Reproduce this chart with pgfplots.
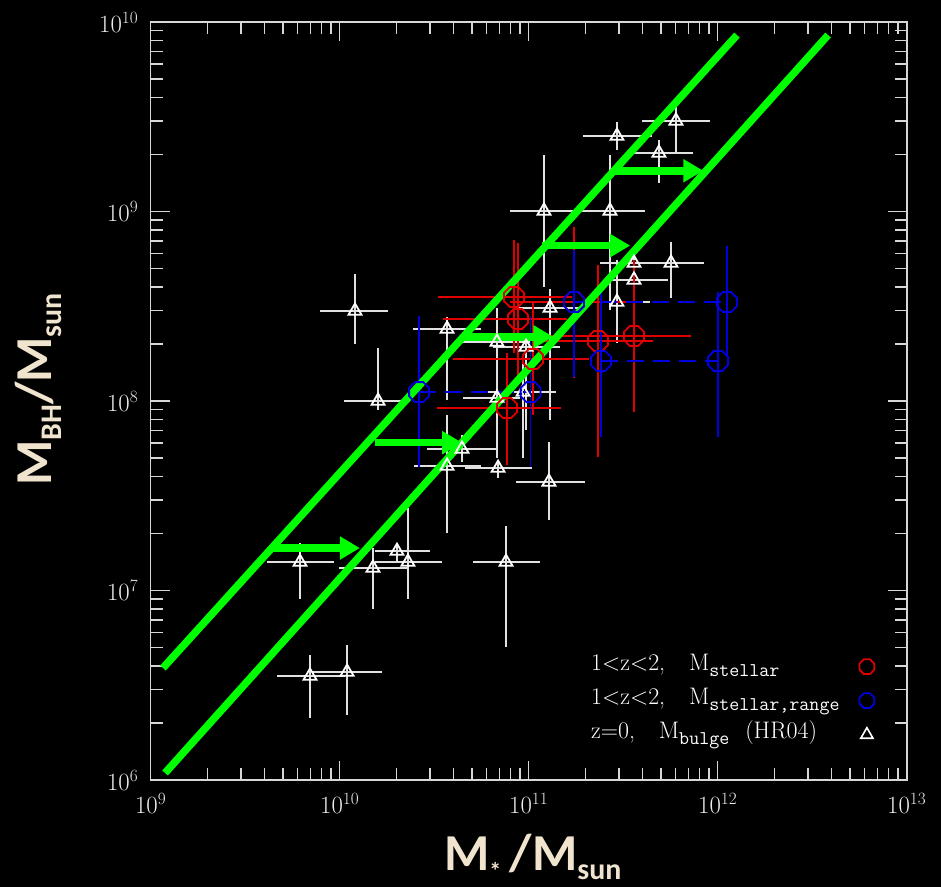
\documentclass[border=0pt]{standalone}
\usepackage{fontspec}
\usepackage{pgfplots}
\usepackage{pgfplotstable}
\pgfplotsset{compat=1.18}
\usetikzlibrary{arrows.meta}
\newfontfamily\carlito{Carlito}
\definecolor{lab}{RGB}{240,228,206}
\definecolor{gr}{RGB}{0,255,0}
\definecolor{wbar}{RGB}{225,225,225}
\definecolor{rd}{RGB}{225,0,0}
\definecolor{bl}{RGB}{0,0,225}
\definecolor{frm}{RGB}{215,215,215}
\newcommand\sub[1]{\raisebox{-6bp}{\fontsize{19.5}{19.5}\selectfont\ttfamily #1}}
\pgfdeclareplotmark{octagon}{%
  \pgfpathmoveto{\pgfqpointpolar{22.5}{\pgfplotmarksize}}%
  \pgfpathlineto{\pgfqpointpolar{67.5}{\pgfplotmarksize}}%
  \pgfpathlineto{\pgfqpointpolar{112.5}{\pgfplotmarksize}}%
  \pgfpathlineto{\pgfqpointpolar{157.5}{\pgfplotmarksize}}%
  \pgfpathlineto{\pgfqpointpolar{202.5}{\pgfplotmarksize}}%
  \pgfpathlineto{\pgfqpointpolar{247.5}{\pgfplotmarksize}}%
  \pgfpathlineto{\pgfqpointpolar{292.5}{\pgfplotmarksize}}%
  \pgfpathlineto{\pgfqpointpolar{337.5}{\pgfplotmarksize}}%
  \pgfpathclose\pgfusepathqstroke}

% log10 values
\pgfplotstableread{
x y xlo xhi ylo yhi
10.081 8.475 9.896 10.256 8.301 8.670
10.203 8.000 10.023 10.372 7.953 8.280
10.568 8.380 10.388 10.748 8.005 8.443
10.568 7.657 10.393 10.748 7.303 7.926
10.647 7.747 10.462 10.827 7.678 7.821
10.838 7.646 10.663 11.017 7.594 7.678
10.832 8.311 10.652 11.007 7.699 8.491
10.986 8.285 10.811 11.166 7.847 8.359
10.970 8.047 10.785 11.144 7.699 8.201
11.113 8.491 10.938 11.293 7.900 8.591
11.081 9.003 10.901 11.256 8.602 9.298
11.430 9.003 11.256 11.615 8.480 9.298
11.467 9.398 11.287 11.652 9.325 9.472
11.779 9.478 11.599 11.959 9.309 9.551
11.689 9.309 11.536 11.869 9.150 9.377
11.753 8.728 11.573 11.928 8.544 8.839
11.557 8.728 11.377 11.737 8.586 8.760
11.557 8.639 11.430 11.737 8.359 8.718
11.467 8.522 11.324 11.642 8.306 8.744
9.790 7.150 9.615 9.970 6.955 7.251
10.176 7.119 9.996 10.356 6.902 7.224
10.303 7.208 10.187 10.478 7.150 7.235
10.361 7.150 10.187 10.541 6.955 7.435
10.880 7.150 10.705 11.060 6.702 7.340
9.843 6.549 9.668 10.028 6.327 6.660
10.039 6.570 9.853 10.224 6.343 6.712
11.107 7.573 10.933 11.298 7.372 7.784
10.832 8.016 10.652 10.954 7.699 8.058
}\tri

\pgfplotstableread{
x y xlo xhi ylo yhi
10.922 8.549 10.520 11.229 8.253 8.850
10.943 8.433 10.547 11.203 8.111 8.834
11.023 8.222 10.599 11.319 7.926 8.517
10.885 7.963 10.515 11.171 7.662 8.253
11.240 8.522 10.901 11.552 8.121 8.920
11.367 8.317 11.076 11.658 7.704 8.718
11.557 8.343 11.113 11.859 7.942 8.744
}\red

\pgfplotstableread{
x y ylo yhi
10.420 8.047 7.652 8.449
11.010 8.047 7.652 8.449
11.240 8.522 8.126 8.797
12.049 8.522 8.237 8.818
11.383 8.211 7.810 8.575
12.002 8.211 7.810 8.575
}\blue

\begin{document}
\begin{tikzpicture}
\fill[black] (-150.7bp,-107bp) rectangle (790.3bp,780bp);
\begin{axis}[
  scale only axis, width=756bp, height=758bp,
  xmin=9, xmax=13, ymin=6, ymax=10,
  xtick={9,10,11,12,13}, ytick={6,7,8,9,10},
  xticklabels={$10^{9}$,$10^{10}$,$10^{11}$,$10^{12}$,$10^{13}$},
  yticklabels={$10^{6}$,$10^{7}$,$10^{8}$,$10^{9}$,$10^{10}$},
  minor xtick={9.30103,9.47712,9.60206,9.69897,9.77815,9.84510,9.90309,9.95424,
               10.30103,10.47712,10.60206,10.69897,10.77815,10.84510,10.90309,10.95424,
               11.30103,11.47712,11.60206,11.69897,11.77815,11.84510,11.90309,11.95424,
               12.30103,12.47712,12.60206,12.69897,12.77815,12.84510,12.90309,12.95424},
  minor ytick={6.30103,6.47712,6.60206,6.69897,6.77815,6.84510,6.90309,6.95424,
               7.30103,7.47712,7.60206,7.69897,7.77815,7.84510,7.90309,7.95424,
               8.30103,8.47712,8.60206,8.69897,8.77815,8.84510,8.90309,8.95424,
               9.30103,9.47712,9.60206,9.69897,9.77815,9.84510,9.90309,9.95424},
  tick align=inside, major tick length=19bp, minor tick length=12bp,
  axis line style={frm, line width=1.6bp},
  every tick/.style={frm, line width=1.4bp},
  ticklabel style={font=\fontsize{25}{30}\selectfont, text=white!93!black},
  xticklabel style={yshift=-10bp},
  yticklabel style={xshift=-9bp},
  xlabel={\carlito\bfseries M\raisebox{-9bp}{\fontsize{24}{24}\selectfont *}\,/M\raisebox{-9bp}{\fontsize{30}{30}\selectfont sun}},
  ylabel={\carlito\bfseries M\raisebox{-10bp}{\fontsize{30}{30}\selectfont BH}/M\raisebox{-10bp}{\fontsize{30}{30}\selectfont sun}},
  xlabel style={font=\fontsize{52}{60}\selectfont, text=lab, inner sep=0pt, at={(axis description cs:0.5053,-0.1200)}, anchor=base},
  ylabel style={font=\fontsize{52}{60}\selectfont, text=lab, inner sep=0pt, at={(axis description cs:-0.1306,0.515)}, anchor=base, rotate=0},
  legend style={draw=none, fill=none, text=white, inner sep=0pt,
    font=\fontsize{24}{28}\selectfont,
    at={(axis description cs:0.9574,0.043)}, anchor=south east,
    row sep=9bp, column sep=20bp,
    nodes={inner sep=0pt, text height=16bp, text depth=9bp}},
  legend plot pos=right, legend cell align=left,
]
% z=0 bulge sample (triangles)
\addplot[forget plot, only marks, color=wbar, mark=triangle, mark size=7.5bp,
  mark options={line width=1.8bp, draw=white},
  error bars/.cd, x dir=both, x explicit, y dir=both, y explicit,
  error mark=none, error bar style={line width=1.5bp, color=wbar}]
  table[x=x, y=y,
    x error plus expr=\thisrow{xhi}-\thisrow{x}, x error minus expr=\thisrow{x}-\thisrow{xlo},
    y error plus expr=\thisrow{yhi}-\thisrow{y}, y error minus expr=\thisrow{y}-\thisrow{ylo}] {\tri};
% 1<z<2 stellar (red)
\addplot[forget plot, only marks, color=rd, mark=octagon, mark size=10.8bp,
  mark options={line width=1.8bp},
  error bars/.cd, x dir=both, x explicit, y dir=both, y explicit,
  error mark=none, error bar style={line width=1.5bp, color=rd}]
  table[x=x, y=y,
    x error plus expr=\thisrow{xhi}-\thisrow{x}, x error minus expr=\thisrow{x}-\thisrow{xlo},
    y error plus expr=\thisrow{yhi}-\thisrow{y}, y error minus expr=\thisrow{y}-\thisrow{ylo}] {\red};
% 1<z<2 stellar range (blue)
\addplot[forget plot, bl, line width=1.5bp, dash pattern=on 17bp off 9bp] coordinates {(10.420,8.047)(11.010,8.047)};
\addplot[forget plot, bl, line width=1.5bp, dash pattern=on 17bp off 9bp] coordinates {(11.240,8.522)(12.049,8.522)};
\addplot[forget plot, bl, line width=1.5bp, dash pattern=on 17bp off 9bp] coordinates {(11.383,8.211)(12.002,8.211)};
\addplot[forget plot, only marks, color=bl, mark=octagon, mark size=10.8bp,
  mark options={line width=1.8bp},
  error bars/.cd, y dir=both, y explicit,
  error mark=none, error bar style={line width=1.5bp, color=bl}]
  table[x=x, y=y,
    y error plus expr=\thisrow{yhi}-\thisrow{y}, y error minus expr=\thisrow{y}-\thisrow{ylo}] {\blue};
% green relations
\addplot[forget plot, gr, line width=7.5bp] coordinates {(9.065,6.591)(12.102,9.931)};
\addplot[forget plot, gr, line width=7.5bp] coordinates {(9.076,6.037)(12.584,9.931)};
\addplot[forget plot, gr, line width=7.5bp, -{Triangle[width=22bp,length=20bp]}] coordinates {(9.630,7.224)(10.107,7.224)};
\addplot[forget plot, gr, line width=7.5bp, -{Triangle[width=22bp,length=20bp]}] coordinates {(10.187,7.780)(10.648,7.780)};
\addplot[forget plot, gr, line width=7.5bp, -{Triangle[width=22bp,length=20bp]}] coordinates {(10.663,8.339)(11.130,8.339)};
\addplot[forget plot, gr, line width=7.5bp, -{Triangle[width=22bp,length=20bp]}] coordinates {(11.069,8.820)(11.537,8.820)};
\addplot[forget plot, gr, line width=7.5bp, -{Triangle[width=22bp,length=20bp]}] coordinates {(11.457,9.215)(11.924,9.215)};
% legend
\addlegendimage{only marks, mark=octagon, mark size=8bp, rd, mark options={line width=1.8bp}}
\addlegendentry{1<z<2,\quad M\sub{stellar}}
\addlegendimage{only marks, mark=octagon, mark size=8bp, bl, mark options={line width=1.8bp}}
\addlegendentry{1<z<2,\quad M\sub{stellar,range}}
\addlegendimage{only marks, mark=triangle, mark size=7bp, white, mark options={line width=1.6bp}}
\addlegendentry{z=0,\quad M\sub{bulge}\hspace{16bp}(HR04)}
\end{axis}
\pgfresetboundingbox
\path[use as bounding box] (-150.7bp,-107bp) rectangle (790.3bp,780bp);
\end{tikzpicture}
\end{document}
